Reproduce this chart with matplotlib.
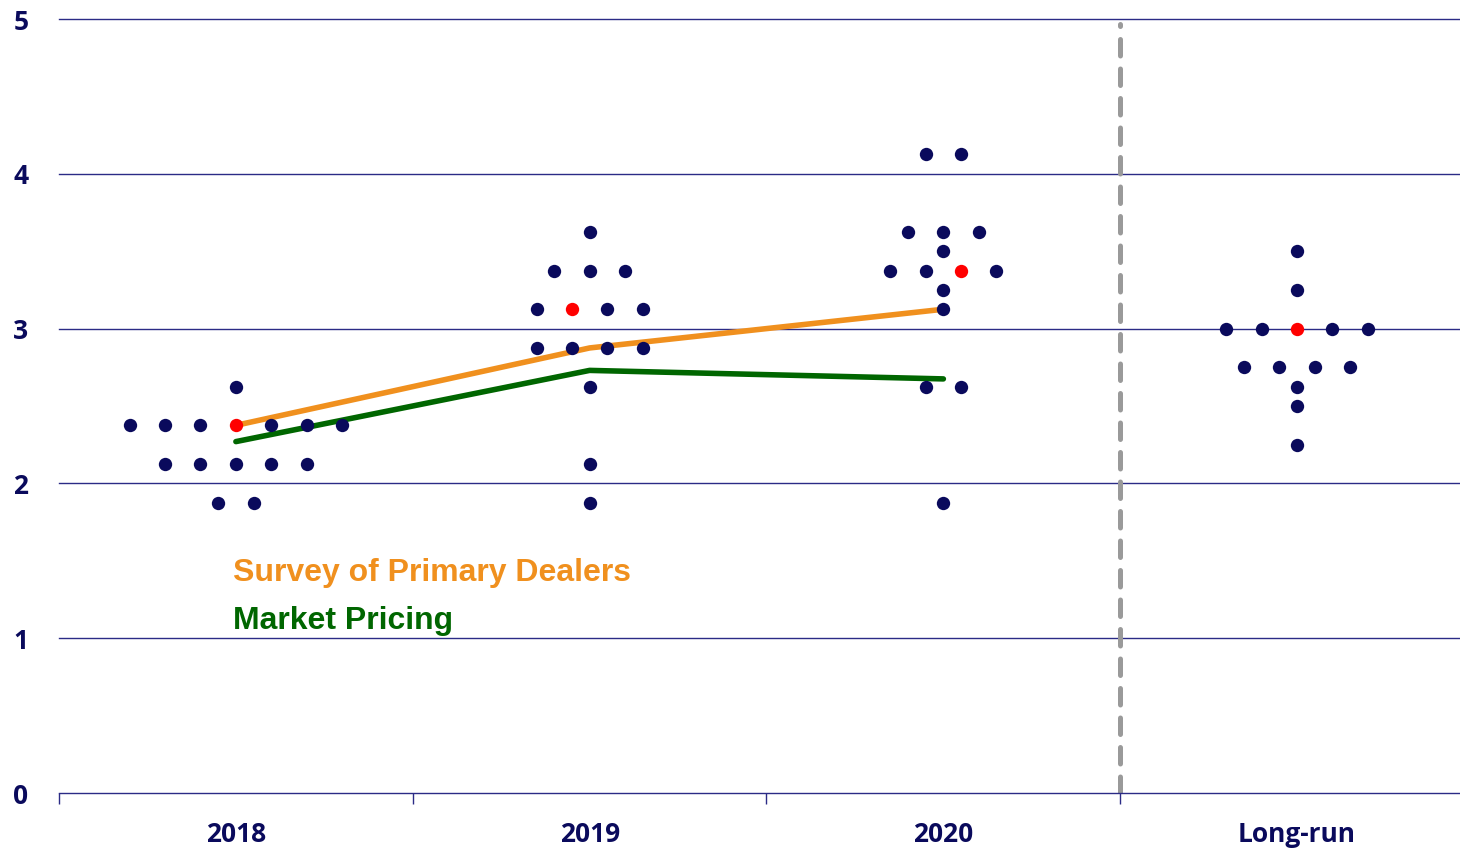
import matplotlib
matplotlib.use("Agg")
import matplotlib.pyplot as plt
import numpy as np

# Projection groups and dot plot (policy rate projections, percent)
groups = ["2018", "2019", "2020", "Long-run"]

# Each entry: (rate level, number of participants at that level)
dots_2018 = [(2.625, 1), (2.375, 7), (2.125, 5), (1.875, 2)]
dots_2019 = [(3.625, 1), (3.375, 3), (3.125, 4), (2.875, 4), (2.625, 1), (2.125, 1), (1.875, 1)]
dots_2020 = [(4.125, 2), (3.625, 3), (3.5, 1), (3.375, 4), (3.25, 1), (3.125, 1), (2.625, 2), (1.875, 1)]
dots_longrun = [(3.5, 1), (3.25, 1), (3.0, 5), (2.75, 4), (2.625, 1), (2.5, 1), (2.25, 1)]
dot_sets = [dots_2018, dots_2019, dots_2020, dots_longrun]

# Median dot per group: (level, position index within that row)
median_2018 = (2.375, 3)
median_2019 = (3.125, 1)
median_2020 = (3.375, 2)
median_longrun = (3.0, 2)
medians = [median_2018, median_2019, median_2020, median_longrun]

# Expected paths
survey_x = [0, 1, 2]
survey_vals = [2.375, 2.875, 3.125]
market_x = [0, 1, 2]
market_vals = [2.27, 2.73, 2.675]

y_ticks = [0, 1, 2, 3, 4, 5]

NAVY = "#0a0a5c"
GRID = "#2b2b86"
ORANGE = "#f0901e"
GREEN = "#006600"
RED = "#ff0000"
TICK_FONT = "Open Sans"

fig = plt.figure(figsize=(14.6, 8.51), dpi=100)
ax = fig.add_axes([59 / 1460, 58 / 851, 1415 / 1460, 774 / 851])
ax.set_xlim(-0.5, 3.5)
ax.set_ylim(0, 5)
ax.set_facecolor("white")

# Horizontal gridlines
for yv in y_ticks[1:]:
    ax.axhline(yv, color=GRID, lw=1.0, zorder=1, clip_on=False)

# Dots
step = 0.1
for gi, rows in enumerate(dot_sets):
    med_level, med_idx = medians[gi]
    for level, n in rows:
        offsets = (np.arange(n) - (n - 1) / 2) * step
        for k, off in enumerate(offsets):
            is_med = (level == med_level and k == med_idx)
            ax.plot(gi + off, level, "o", ms=9.6, mew=0,
                    color=RED if is_med else NAVY, zorder=4)

# Expected paths
ax.plot(survey_x, survey_vals, color=ORANGE, lw=4.0, solid_capstyle="round", zorder=3)
ax.plot(market_x, market_vals, color=GREEN, lw=4.0, solid_capstyle="round", zorder=3)

# Separator between dated projections and long run
ax.plot([2.5, 2.5], [0.0, 4.97], color="#9a9a9a", lw=3.6,
        linestyle=(0, (3.3, 2.6)), dash_capstyle="round", zorder=2)

# Axes styling
for side in ["top", "right", "left"]:
    ax.spines[side].set_visible(False)
ax.spines["bottom"].set_color(GRID)
ax.spines["bottom"].set_linewidth(1.0)

ax.set_xticks([-0.5, 0.5, 1.5, 2.5])
ax.set_xticklabels([])
ax.set_xticks([0, 1, 2, 3], minor=True)
ax.set_xticklabels(groups, minor=True)
ax.tick_params(axis="x", which="major", length=8, width=1.0, color=GRID, direction="out")
ax.tick_params(axis="x", which="minor", length=0, pad=20, labelsize=19, labelcolor=NAVY)
for lab in ax.get_xticklabels(minor=True):
    lab.set_fontfamily(TICK_FONT)
    lab.set_fontweight("bold")

ax.set_yticks(y_ticks)
ax.set_yticklabels([str(v) for v in y_ticks])
ax.tick_params(axis="y", length=0, pad=22, labelsize=19, labelcolor=NAVY)
for lab in ax.get_yticklabels():
    lab.set_fontfamily(TICK_FONT)
    lab.set_fontweight("bold")

# Series labels
ax.text(-0.008, 1.42, "Survey of Primary Dealers", color=ORANGE, fontsize=23,
        fontweight="bold", family="Liberation Sans", va="center", ha="left")
ax.text(-0.008, 1.11, "Market Pricing", color=GREEN, fontsize=23,
        fontweight="bold", family="Liberation Sans", va="center", ha="left")

fig.savefig("out.png", dpi=100, facecolor="white")
